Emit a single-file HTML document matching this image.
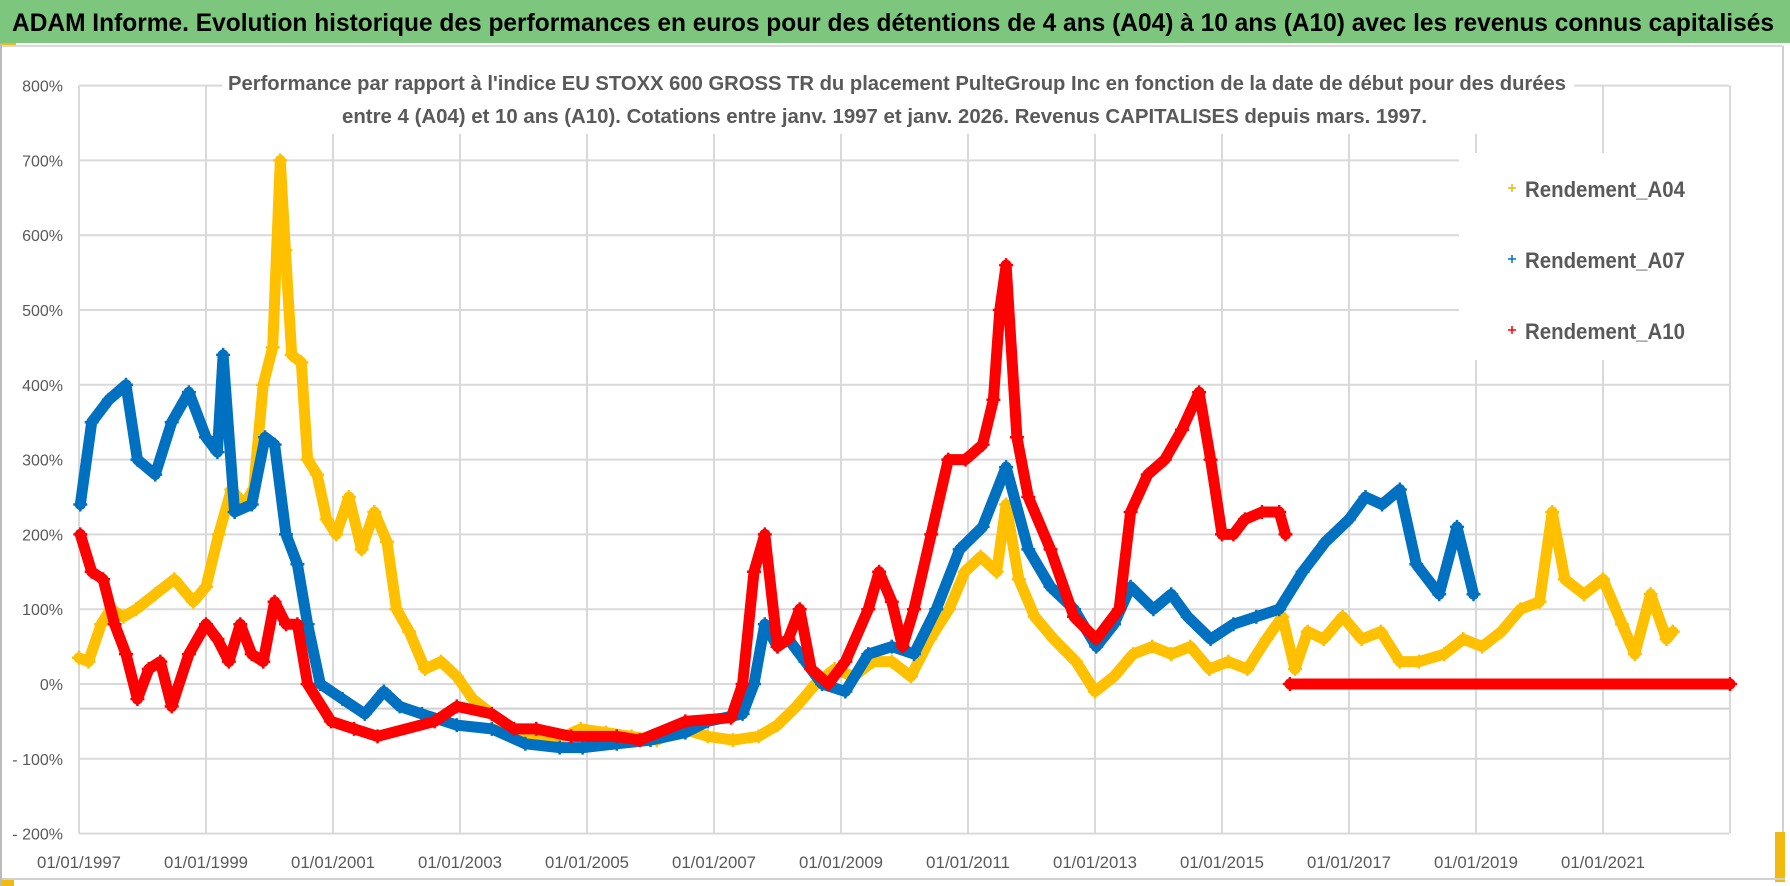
<!DOCTYPE html>
<html><head><meta charset="utf-8"><style>
html,body{margin:0;padding:0;background:#fff;width:1790px;height:886px;overflow:hidden}
svg{display:block;font-family:"Liberation Sans",sans-serif}
</style></head><body>
<svg id="chart" width="1790" height="886" viewBox="0 0 1790 886" xmlns="http://www.w3.org/2000/svg">
<rect x="0" y="0" width="1790" height="886" fill="#fff"/>
<rect x="0" y="0" width="1790" height="43" fill="#7DC67E"/>
<text x="12" y="31" font-size="25" font-weight="bold" fill="#000" textLength="1762" lengthAdjust="spacingAndGlyphs">ADAM Informe. Evolution historique des performances en euros pour des détentions de 4 ans (A04) à 10 ans (A10) avec les revenus connus capitalisés</text>
<rect x="0" y="43" width="16" height="3" fill="#F2B90F"/>
<line x1="0" y1="46" x2="1785" y2="46" stroke="#d9d9d9" stroke-width="2"/>
<rect x="1782" y="44" width="8" height="842" fill="#fff"/>
<line x1="1783" y1="46" x2="1783" y2="880" stroke="#d0d0d0" stroke-width="2"/>
<rect x="1775" y="832" width="10" height="50" fill="#F2B90F"/>
<line x1="0" y1="879" x2="1785" y2="879" stroke="#d0d0d0" stroke-width="2"/>
<rect x="0" y="880" width="14" height="6" fill="#F2B90F"/>
<line x1="1" y1="44" x2="1" y2="886" stroke="#bbb" stroke-width="2"/>
<g id="grid"></g>
<g id="axes"></g>
<g id="series"></g>
<rect x="222" y="64" width="1352" height="70" fill="#fff"/>
<text x="228" y="90" font-size="20" font-weight="bold" fill="#595959" textLength="1338" lengthAdjust="spacingAndGlyphs">Performance par rapport à l'indice EU STOXX 600 GROSS TR  du placement PulteGroup Inc en fonction de la date de début pour des durées</text>
<text x="342" y="123" font-size="20" font-weight="bold" fill="#595959" textLength="1085" lengthAdjust="spacingAndGlyphs">entre 4 (A04) et 10 ans (A10). Cotations entre janv. 1997 et janv. 2026. Revenus CAPITALISES depuis mars. 1997.</text>
<g id="legend">
<rect x="1459" y="153" width="270" height="207" fill="#fff"/>
<g><path d="M1508 188h8M1512 184v8" stroke="#F2B90F" stroke-width="1.5"/><text x="1525" y="197" font-size="22" font-weight="bold" fill="#595959" textLength="160" lengthAdjust="spacingAndGlyphs">Rendement_A04</text></g>
<g><path d="M1508 259h8M1512 255v8" stroke="#0070C0" stroke-width="1.5"/><text x="1525" y="268" font-size="22" font-weight="bold" fill="#595959" textLength="160" lengthAdjust="spacingAndGlyphs">Rendement_A07</text></g>
<g><path d="M1508 330h8M1512 326v8" stroke="#FF0000" stroke-width="1.5"/><text x="1525" y="339" font-size="22" font-weight="bold" fill="#595959" textLength="160" lengthAdjust="spacingAndGlyphs">Rendement_A10</text></g>
</g>
</svg>
<script>
const yTicks = [800,700,600,500,400,300,200,100,0,-100,-200];
const yTickLabels = ["800%","700%","600%","500%","400%","300%","200%","100%","0%","- 100%","- 200%"];
const xTicks = [1997,1999,2001,2003,2005,2007,2009,2011,2013,2015,2017,2019,2021];
const xTickLabels = ["01/01/1997","01/01/1999","01/01/2001","01/01/2003","01/01/2005","01/01/2007","01/01/2009","01/01/2011","01/01/2013","01/01/2015","01/01/2017","01/01/2019","01/01/2021"];

const a04Years = [1997.0,1997.15,1997.35,1997.5,1997.7,1997.9,1998.2,1998.5,1998.8,1999.0,1999.2,1999.4,1999.6,1999.75,1999.9,2000.05,2000.17,2000.25,2000.35,2000.5,2000.6,2000.75,2000.9,2001.05,2001.25,2001.45,2001.65,2001.85,2002.0,2002.2,2002.45,2002.7,2002.95,2003.2,2003.5,2003.8,2004.1,2004.5,2004.9,2005.3,2005.7,2006.1,2006.5,2006.9,2007.3,2007.7,2008.0,2008.3,2008.6,2008.9,2009.2,2009.5,2009.8,2010.1,2010.4,2010.7,2010.95,2011.2,2011.45,2011.6,2011.8,2012.05,2012.35,2012.7,2013.0,2013.3,2013.6,2013.9,2014.2,2014.5,2014.8,2015.1,2015.4,2015.7,2015.95,2016.15,2016.35,2016.6,2016.9,2017.2,2017.5,2017.8,2018.1,2018.5,2018.8,2019.1,2019.4,2019.7,2020.0,2020.2,2020.4,2020.7,2021.0,2021.3,2021.5,2021.75,2022.0,2022.1];
const a04Values = [35,30,80,100,90,100,120,140,110,130,200,260,240,260,400,450,700,580,440,430,300,280,220,200,250,180,230,190,100,70,20,30,10,-20,-40,-60,-70,-75,-60,-65,-70,-75,-60,-70,-75,-70,-55,-30,0,20,10,30,30,10,60,100,150,170,150,240,140,90,60,30,-10,10,40,50,40,50,20,30,20,60,90,20,70,60,90,60,70,30,30,40,60,50,70,100,110,230,140,120,140,80,40,120,60,70];

const a07Years = [1997.02,1997.2,1997.47,1997.74,1997.92,1998.2,1998.46,1998.73,1999.0,1999.18,1999.27,1999.45,1999.72,1999.93,2000.08,2000.26,2000.44,2000.6,2000.8,2001.15,2001.5,2001.8,2002.05,2002.4,2002.95,2003.5,2004.03,2004.57,2004.93,2005.47,2006.0,2006.55,2006.9,2007.45,2007.63,2007.8,2008.0,2008.17,2008.44,2008.7,2009.07,2009.43,2009.8,2010.15,2010.5,2010.87,2011.23,2011.6,2011.95,2012.3,2012.67,2013.02,2013.3,2013.56,2013.92,2014.2,2014.46,2014.82,2015.18,2015.54,2015.9,2016.27,2016.63,2017.0,2017.26,2017.52,2017.8,2018.06,2018.42,2018.7,2018.96];
const a07Values = [240,350,380,400,300,280,350,390,330,310,440,230,240,330,320,200,160,80,0,-20,-40,-10,-30,-40,-55,-60,-80,-85,-85,-80,-75,-65,-50,-40,0,80,50,60,30,0,-10,40,50,40,100,180,210,290,180,130,100,50,80,130,100,120,90,60,80,90,100,150,190,220,250,240,260,160,120,210,120];

const a10Years = [1997.02,1997.2,1997.38,1997.56,1997.74,1997.92,1998.1,1998.28,1998.46,1998.73,1999.0,1999.18,1999.36,1999.54,1999.72,1999.9,2000.08,2000.26,2000.44,2000.6,2000.97,2001.33,2001.7,2002.6,2002.95,2003.5,2003.85,2004.2,2004.75,2005.47,2005.83,2006.55,2007.27,2007.45,2007.63,2007.8,2008.0,2008.17,2008.35,2008.53,2008.8,2009.07,2009.43,2009.6,2009.8,2009.97,2010.15,2010.42,2010.69,2010.96,2011.23,2011.4,2011.5,2011.6,2011.77,2011.95,2012.3,2012.67,2013.02,2013.38,2013.56,2013.83,2014.1,2014.37,2014.64,2014.82,2015.0,2015.18,2015.36,2015.63,2015.9,2016.0];
const a10Values = [200,150,140,80,40,-20,20,30,-30,40,80,60,30,80,40,30,110,80,80,0,-50,-60,-70,-50,-30,-40,-60,-60,-70,-70,-75,-50,-45,0,150,200,50,60,100,20,0,30,100,150,110,50,100,200,300,300,320,380,500,560,330,250,180,90,60,100,230,280,300,340,390,300,200,200,220,230,230,200];
const a10ZeroYears = [2016.07,2023.0];
const a10ZeroValues = [0,0];

const NS = "http://www.w3.org/2000/svg";
const X0 = 79, PX_PER_YEAR = 63.5, Y0 = 684, PX_PER_PCT = 0.748;
function xScale(year){ return X0 + (year - 1997) * PX_PER_YEAR; }
function yScale(v){ return Y0 - v * PX_PER_PCT; }
function mk(tag, attrs, parent){ const e = document.createElementNS(NS, tag); for (const k in attrs) e.setAttribute(k, attrs[k]); parent.appendChild(e); return e; }

const grid = document.getElementById('grid');
const axes = document.getElementById('axes');
yTicks.forEach((t, i) => {
  const l = mk('line', {x1: X0, x2: 1729, y1: yScale(t), y2: yScale(t), stroke: '#d9d9d9', 'stroke-width': 2}, grid);
  
  
  const tx = mk('text', {x: 63, y: yScale(t) + 6, 'font-size': 16, fill: '#595959', 'text-anchor': 'end'}, axes);
  tx.textContent = yTickLabels[i];
  
  
});
const hAxis = mk('line', {x1: X0, x2: 1729, y1: yScale(-33), y2: yScale(-33), stroke: '#cfcfcf', 'stroke-width': 2}, grid);


for (let yr = 1997; yr <= 2023; yr += 2) {
  const l = mk('line', {x1: xScale(yr), x2: xScale(yr), y1: yScale(800), y2: yScale(-200), stroke: '#d9d9d9', 'stroke-width': 2}, grid);
  
  
}
xTicks.forEach((t, i) => {
  const tx = mk('text', {x: xScale(t), y: 868, 'font-size': 17, fill: '#595959', 'text-anchor': 'middle', textLength: 84, lengthAdjust: 'spacingAndGlyphs'}, axes);
  tx.textContent = xTickLabels[i];
  
  
});

const seriesG = document.getElementById('series');
function drawSeries(years, values, color, name) {
  const g = mk('g', {}, seriesG);
  
  
  const pts = years.map((y, i) => xScale(y).toFixed(1) + ',' + yScale(values[i]).toFixed(1)).join(' ');
  const pl = mk('polyline', {points: pts, fill: 'none', stroke: color, 'stroke-width': 11, 'stroke-linejoin': 'round', 'stroke-linecap': 'round'}, g);
  
  
  let d = '';
  years.forEach((y, i) => {
    const cx = xScale(y), cy = yScale(values[i]);
    d += 'M' + (cx - 7).toFixed(1) + ' ' + cy.toFixed(1) + 'h14M' + cx.toFixed(1) + ' ' + (cy - 7).toFixed(1) + 'v14';
  });
  const pm = mk('path', {d: d, stroke: color, 'stroke-width': 2.5, fill: 'none'}, g);
  
  
}
drawSeries(a04Years, a04Values, '#FFC000', 'series-a04');
drawSeries(a07Years, a07Values, '#0070C0', 'series-a07');
drawSeries(a10Years, a10Values, '#FF0000', 'series-a10');
drawSeries(a10ZeroYears, a10ZeroValues, '#FF0000', 'series-a10-zero');
</script>
</body></html>
